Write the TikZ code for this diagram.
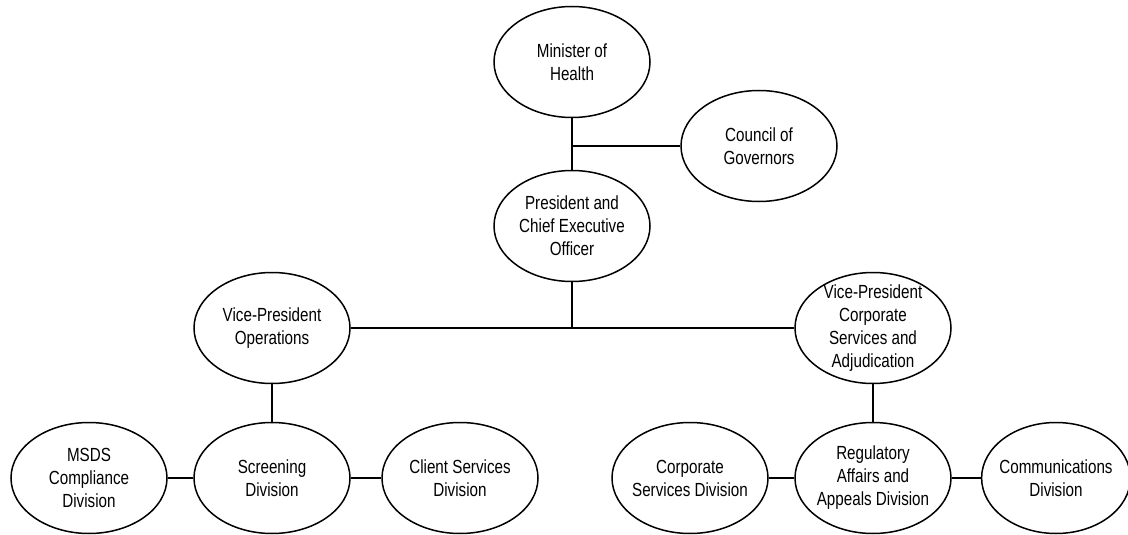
\documentclass[tikz,border=0pt]{standalone}
\usepackage{fontspec}
\setmainfont{Liberation Sans}[FakeStretch=0.8]
\usetikzlibrary{shapes.geometric}

\begin{document}
\begin{tikzpicture}[x=1pt, y=-1pt, line width=1.5pt,
    unit/.style={ellipse, draw, minimum width=156pt, minimum height=111pt,
        inner sep=-4pt, align=center,
        font=\fontsize{19}{23}\selectfont}]
    \useasboundingbox (0,0) rectangle (1128,535);

    \node[unit] (min) at (572,62) {Minister of\\Health};
    \node[unit] (cog) at (759,146) {Council of\\Governors};
    \node[unit] (pres) at (572,226) {President and\\Chief Executive\\Officer};

    \node[unit] (vpo) at (272,328) {Vice-President\\Operations};
    \node[unit, inner sep=-12pt] (vpc) at (873,328) {Vice-President\\Corporate\\Services and\\Adjudication};

    \node[unit] (msds) at (89,478) {MSDS\\Compliance\\Division};
    \node[unit] (scr) at (272,478) {Screening\\Division};
    \node[unit] (cli) at (460,478) {Client Services\\Division};
    \node[unit] (corp) at (690,478) {Corporate\\Services Division};
    \node[unit] (reg) at (873,478) {Regulatory\\Affairs and\\Appeals Division};
    \node[unit, minimum width=148pt] (comm) at (1056,478) {Communications\\Division};

    \coordinate (j1) at (572,146);
    \coordinate (j2) at (572,328);

    \draw (min) -- (pres);
    \draw (j1) -- (cog.west);
    \draw (pres) -- (j2);
    \draw (vpo.east) -- (vpc.west);

    \draw (vpo) -- (scr);
    \draw (msds) -- (scr) -- (cli);

    \draw (vpc) -- (reg);
    \draw (corp) -- (reg) -- (comm);
\end{tikzpicture}
\end{document}
